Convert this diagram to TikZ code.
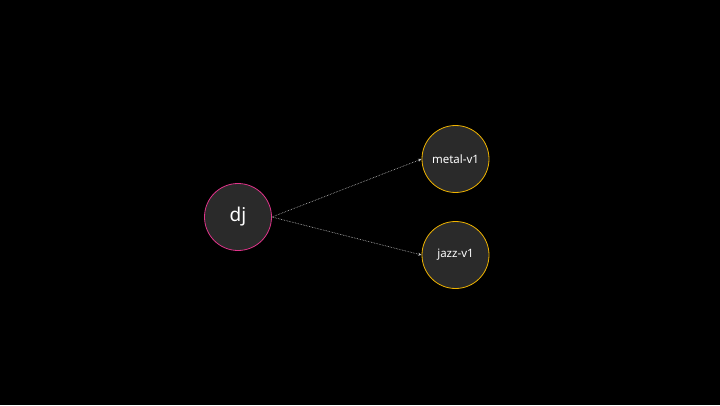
\documentclass[tikz,border=0pt]{standalone}
\usepackage{fontspec}
\setmainfont{Noto Sans}
\usetikzlibrary{arrows.meta}
\definecolor{bgcol}{HTML}{000000}
\definecolor{nodefill}{HTML}{2A2A2A}
\definecolor{pinkline}{HTML}{E0338A}
\definecolor{goldline}{HTML}{F0B400}
\definecolor{edgecol}{HTML}{C8C8C8}
\tikzset{
  svc/.style={circle,fill=nodefill,draw=#1,line width=0.8pt,minimum size=67pt,inner sep=0pt,text=white},
  route/.style={densely dotted,draw=edgecol,line width=0.6pt,-{Stealth[length=3.5pt,width=3pt]}}
}
\begin{document}
\begin{tikzpicture}[x=1pt,y=1pt]
			\fill[bgcol] (0,0) rectangle (720,405);
			\useasboundingbox (0,0) rectangle (720,405);
			\node[svc=pinkline,font=\fontsize{19}{22}\selectfont] (dj) at (238,188) {dj};
			\node[svc=goldline,font=\fontsize{11.5}{13}\selectfont] (metal) at (455.5,246) {metal-v1};
			\node[svc=goldline,font=\fontsize{11.5}{13}\selectfont] (jazz) at (455.5,150) {jazz-v1};
			\draw[route] (dj.east) -- (metal.west);
			\draw[route] (dj.east) -- (jazz.west);
		\end{tikzpicture}
\end{document}
